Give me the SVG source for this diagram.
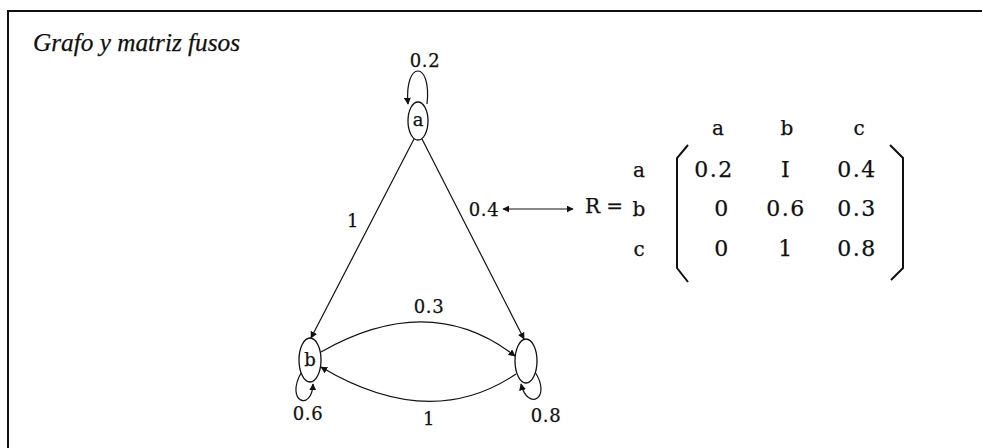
<svg xmlns="http://www.w3.org/2000/svg" width="982" height="448" viewBox="0 0 982 448">
<style>
text{font-family:"DejaVu Serif","Liberation Serif",serif;font-size:18px;fill:#111;stroke:#111;stroke-width:0.25;text-anchor:middle;letter-spacing:0.6px}
.m{font-size:22px;letter-spacing:1.5px}
.ml{font-size:20px;letter-spacing:0}
.title{font-family:"Liberation Serif","DejaVu Serif",serif;font-style:italic;font-size:25px;text-anchor:start;letter-spacing:0}
.node{fill:#fff;stroke:#111;stroke-width:1.3}
.edge{fill:none;stroke:#111;stroke-width:1.2}
.br{fill:none;stroke:#111;stroke-width:2}
</style>
<defs>
<marker id="ah" viewBox="0 0 10 10" refX="9" refY="5" markerWidth="7" markerHeight="7" markerUnits="userSpaceOnUse" orient="auto-start-reverse">
<path d="M0,0 L10,5 L0,10 z" fill="#111"/>
</marker>
</defs>
<rect width="982" height="448" fill="#fff"/>
<path d="M8,448 L8,11 L982,11" fill="none" stroke="#111" stroke-width="2"/>
<text class="title" x="33" y="51" textLength="207" lengthAdjust="spacingAndGlyphs">Grafo y matriz fusos</text>
<g id="connectors">
<path class="edge" d="M427,104 C432,60 404,60 408,104" marker-end="url(#ah)"/>
<path class="edge" d="M414,139 L311,338" marker-end="url(#ah)"/>
<path class="edge" d="M422,139 L524,339" marker-end="url(#ah)"/>
<path class="edge" d="M321,352 Q430,290 515,356" marker-end="url(#ah)"/>
<path class="edge" d="M516,374 Q430,432 321,367" marker-end="url(#ah)"/>
<path class="edge" d="M301,373 C285,402 312,412 313,384" marker-end="url(#ah)"/>
<path class="edge" d="M535,372 C552,398 528,412 521,384" marker-end="url(#ah)"/>
<path class="edge" d="M503,209 L573,209" marker-start="url(#ah)" marker-end="url(#ah)"/>
</g>
<g id="edge-labels">
<text x="425" y="67">0.2</text>
<text x="353" y="227">1</text>
<text x="484" y="216">0.4</text>
<text x="429" y="313">0.3</text>
<text x="429" y="425">1</text>
<text x="308" y="420">0.6</text>
<text x="546" y="422">0.8</text>
</g>
<g id="node-a">
<ellipse class="node" cx="418" cy="121" rx="10" ry="19"/>
<text x="418" y="126" style="letter-spacing:0">a</text>
</g>
<g id="node-b">
<ellipse class="node" cx="310" cy="360" rx="11" ry="22"/>
<text x="310" y="366" style="letter-spacing:0">b</text>
</g>
<g id="node-c">
<ellipse class="node" cx="526" cy="361" rx="11" ry="22"/>
</g>
<g id="matrix">
<text class="ml" x="604" y="213">R =</text>
<text class="ml" x="718" y="135">a</text>
<text class="ml" x="787" y="135">b</text>
<text class="ml" x="859" y="135">c</text>
<text class="ml" x="639" y="177">a</text>
<text class="ml" x="639" y="216">b</text>
<text class="ml" x="639" y="256">c</text>
<text class="m" x="714" y="177">0.2</text>
<text class="m" x="786" y="177">I</text>
<text class="m" x="857" y="177">0.4</text>
<text class="m" x="722" y="216">0</text>
<text class="m" x="786" y="216">0.6</text>
<text class="m" x="857" y="216">0.3</text>
<text class="m" x="722" y="256">0</text>
<text class="m" x="786" y="256">1</text>
<text class="m" x="857" y="256">0.8</text>
<path class="br" d="M688,145 L677,158 L677,268 L688,282"/>
<path class="br" d="M890,145 L903,158 L903,268 L891,280"/>
</g>
</svg>
